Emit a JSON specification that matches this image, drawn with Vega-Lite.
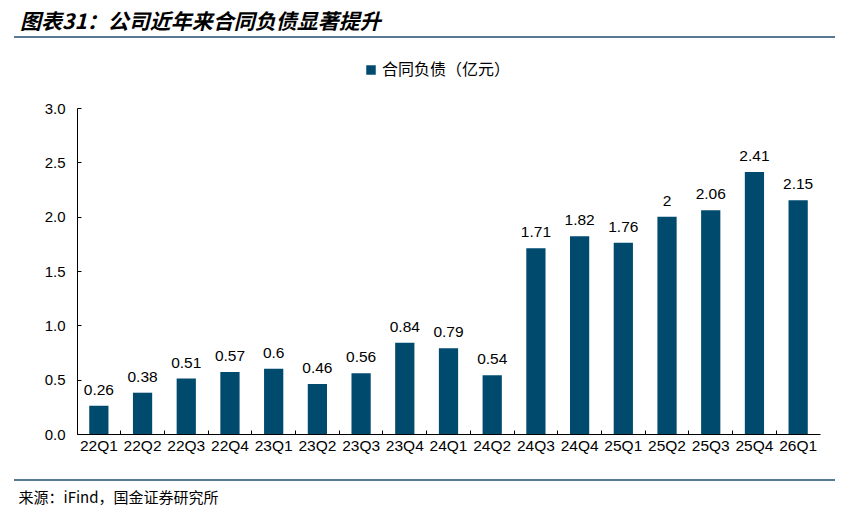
{
  "$schema": "https://vega.github.io/schema/vega-lite/v6.json",
  "width": 743,
  "height": 326,
  "autosize": "none",
  "padding": {"left": 77, "top": 108, "right": 29, "bottom": 88},
  "background": "white",
  "title": {
    "text": "图表31：公司近年来合同负债显著提升",
    "anchor": "start",
    "frame": "group",
    "dx": -57,
    "dy": 26,
    "offset": 8,
    "baseline": "bottom",
    "font": "Noto Sans CJK SC",
    "fontSize": 21,
    "fontWeight": "bold",
    "fontStyle": "italic",
    "color": "#000000"
  },
  "data": {
    "values": [
      {"q": "22Q1", "v": 0.26, "s": "合同负债（亿元）"},
      {"q": "22Q2", "v": 0.38, "s": "合同负债（亿元）"},
      {"q": "22Q3", "v": 0.51, "s": "合同负债（亿元）"},
      {"q": "22Q4", "v": 0.57, "s": "合同负债（亿元）"},
      {"q": "23Q1", "v": 0.6, "s": "合同负债（亿元）"},
      {"q": "23Q2", "v": 0.46, "s": "合同负债（亿元）"},
      {"q": "23Q3", "v": 0.56, "s": "合同负债（亿元）"},
      {"q": "23Q4", "v": 0.84, "s": "合同负债（亿元）"},
      {"q": "24Q1", "v": 0.79, "s": "合同负债（亿元）"},
      {"q": "24Q2", "v": 0.54, "s": "合同负债（亿元）"},
      {"q": "24Q3", "v": 1.71, "s": "合同负债（亿元）"},
      {"q": "24Q4", "v": 1.82, "s": "合同负债（亿元）"},
      {"q": "25Q1", "v": 1.76, "s": "合同负债（亿元）"},
      {"q": "25Q2", "v": 2, "s": "合同负债（亿元）"},
      {"q": "25Q3", "v": 2.06, "s": "合同负债（亿元）"},
      {"q": "25Q4", "v": 2.41, "s": "合同负债（亿元）"},
      {"q": "26Q1", "v": 2.15, "s": "合同负债（亿元）"}
    ]
  },
  "encoding": {
    "x": {
      "field": "q",
      "type": "ordinal",
      "sort": null,
      "scale": {"paddingInner": 0, "paddingOuter": 0},
      "axis": {
        "title": "来源：iFind，国金证券研究所",
        "titleX": -59,
        "titleY": 63,
        "titleAlign": "left",
        "titleAnchor": "start",
        "titleBaseline": "middle",
        "titleFont": "Noto Sans CJK SC",
        "titleFontSize": 15,
        "titleFontWeight": "normal",
        "titleColor": "#000000",
        "labelAngle": 0,
        "labelFont": "Liberation Sans",
        "labelFontSize": 15.5,
        "labelColor": "#000000",
        "labelPadding": 8,
        "bandPosition": 0,
        "tickSize": -4,
        "tickColor": "#000000",
        "domainColor": "#000000",
        "grid": false
      }
    },
    "y": {
      "field": "v",
      "type": "quantitative",
      "scale": {"domain": [0, 3]},
      "axis": {
        "title": null,
        "values": [0, 0.5, 1, 1.5, 2, 2.5, 3],
        "format": ".1f",
        "labelFont": "Liberation Sans",
        "labelFontSize": 15,
        "labelColor": "#000000",
        "labelPadding": 16,
        "tickSize": -4,
        "tickColor": "#000000",
        "domainColor": "#000000",
        "grid": false
      }
    }
  },
  "layer": [
    {
      "mark": {"type": "bar", "width": {"band": 0.44}},
      "encoding": {
        "color": {
          "field": "s",
          "type": "nominal",
          "scale": {"range": ["#004A6E"]},
          "legend": {
            "title": null,
            "orient": "none",
            "legendX": 286,
            "legendY": -46,
            "padding": 0,
            "symbolType": "square",
            "symbolSize": 90,
            "symbolStrokeWidth": 0,
            "labelFont": "Noto Sans CJK SC",
            "labelFontSize": 16,
            "labelColor": "#000000",
            "labelOffset": 3
          }
        }
      }
    },
    {
      "mark": {"type": "text", "baseline": "bottom", "dy": -8, "font": "Liberation Sans", "fontSize": 15.5, "color": "#000000"},
      "encoding": {"text": {"field": "v", "type": "quantitative"}}
    },
    {
      "data": {"values": [{}]},
      "mark": {"type": "rule", "color": "#1F4E6E", "strokeWidth": 1.5, "clip": false},
      "encoding": {
        "x": {"value": -63},
        "x2": {"value": 758},
        "y": {"value": -71}
      }
    },
    {
      "data": {"values": [{}]},
      "mark": {"type": "rule", "color": "#1F4E6E", "strokeWidth": 1.5, "clip": false},
      "encoding": {
        "x": {"value": -63},
        "x2": {"value": 758},
        "y": {"value": 372}
      }
    }
  ],
  "config": {"view": {"stroke": null}}
}
